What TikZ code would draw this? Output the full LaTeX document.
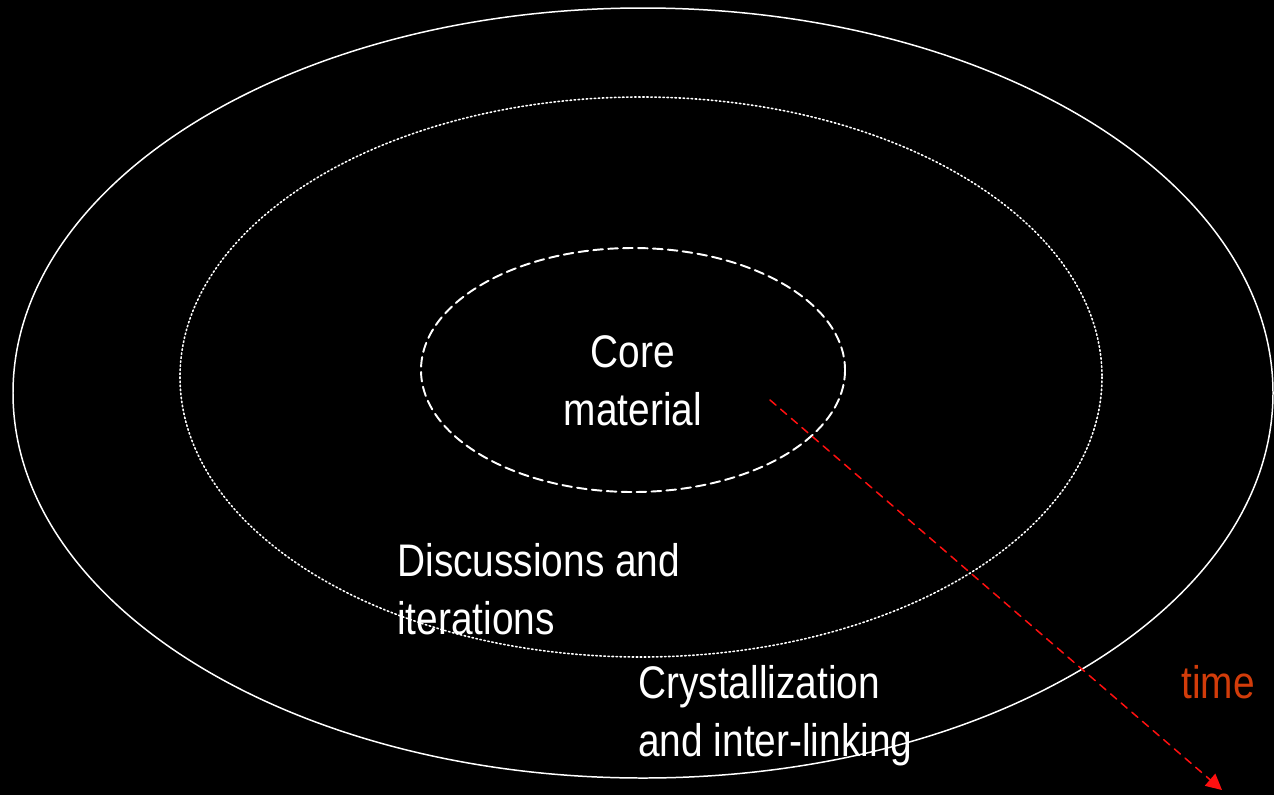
\documentclass[tikz,border=0pt]{standalone}
\usepackage{fontspec}
\setmainfont{Liberation Sans}[FakeStretch=0.85]
\usetikzlibrary{arrows.meta}

\begin{document}
\begin{tikzpicture}[x=0.02cm, y=-0.02cm, line cap=round,
  font=\fontsize{26}{33}\selectfont,
  ringtext/.style={text=white, align=left, inner sep=0pt, anchor=north west}]
  \definecolor{timeRed}{HTML}{D23C0A}
  \definecolor{arrowRed}{HTML}{FF1010}
  \fill[black] (0,0) rectangle (1274,795);
  \useasboundingbox (0,0) rectangle (1274,795);

  % the three rings
  \draw[white, line width=0.85pt] (643,393) ellipse [x radius=630, y radius=385];
  \draw[white, line width=0.9pt, dash pattern=on 0.9pt off 1.4pt]
    (641,377) ellipse [x radius=461, y radius=280];
  \draw[white, line width=1.1pt, dash pattern=on 5.5pt off 3pt]
    (633,370) ellipse [x radius=212, y radius=122];

  \node[text=white, align=center, inner sep=0pt, anchor=base] (core) at (633,425)
    {Core\\material};
  \node[ringtext] (discuss) at (397,543) {Discussions and\\iterations};
  \node[ringtext] (crystal) at (638,665) {Crystallization\\and inter-linking};
  \node[text=timeRed, inner sep=0pt, anchor=base west] (time) at (1181,698) {time};

  \coordinate (tstart) at (770,400);
  \coordinate (tend) at (1222,790);
  \draw[arrowRed, line width=0.85pt, dash pattern=on 4.5pt off 3.5pt,
    -{Triangle[length=9pt, width=9pt]}] (tstart) -- (tend);
\end{tikzpicture}
\end{document}
